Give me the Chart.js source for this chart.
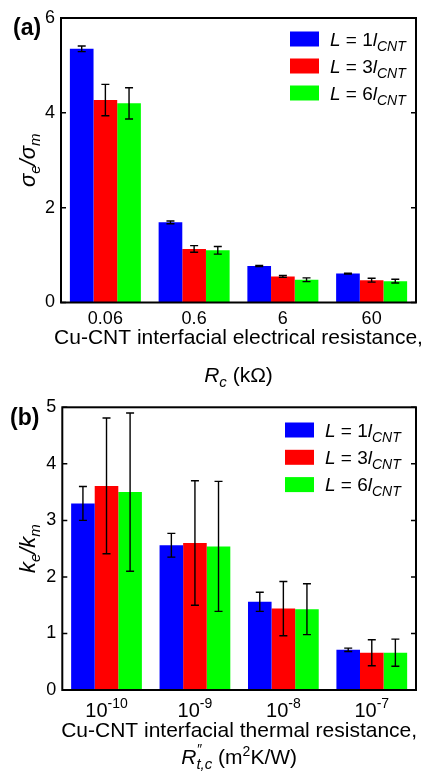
<!DOCTYPE html>
<html>
<head>
<meta charset="utf-8">
<script src="https://cdn.jsdelivr.net/npm/chart.js@4"></script>
<style>
  body { margin: 0; background: #fff; }
  #wrap { position: relative; width: 428px; height: 775px; }
  canvas { position: absolute; left: 0; }
  #elecChart { top: 0; }
  #thermChart { top: 385px; }
</style>
</head>
<body>
<div id="wrap">
  <canvas id="elecChart" width="428" height="400"></canvas>
  <canvas id="thermChart" width="428" height="390"></canvas>
</div>
<script>
// Series: inclusion length L = n * l_CNT
const lengthFactors = ['1', '3', '6'];
const seriesColors = ['#0000ff', '#ff0000', '#00ff00'];

// (a) effective electrical conductivity ratio vs. interfacial resistance (kOhm)
const resistanceLabels = ['0.06', '0.6', '6', '60'];
const sigmaL1 = [5.35, 1.69, 0.77, 0.61];
const sigmaL3 = [4.27, 1.13, 0.55, 0.47];
const sigmaL6 = [4.20, 1.10, 0.48, 0.45];
const sigmaErrL1 = [0.06, 0.03, 0.01, 0.01];
const sigmaErrL3 = [0.33, 0.07, 0.02, 0.04];
const sigmaErrL6 = [0.33, 0.08, 0.04, 0.04];
const sigmaTicks = [0, 2, 4, 6];

// (b) effective thermal conductivity ratio vs. interfacial thermal resistance
const thermalExponents = ['-10', '-9', '-8', '-7'];
const kL1 = [3.30, 2.56, 1.56, 0.71];
const kL3 = [3.61, 2.60, 1.44, 0.66];
const kL6 = [3.50, 2.54, 1.43, 0.66];
const kErrL1 = [0.30, 0.21, 0.17, 0.03];
const kErrL3 = [1.20, 1.10, 0.48, 0.23];
const kErrL6 = [1.40, 1.15, 0.45, 0.24];
const kTicks = [0, 1, 2, 3, 4, 5];

const FAMILY = '"Liberation Sans", Arial, Helvetica, sans-serif';

function fontOf(p) {
  return (p.i ? 'italic ' : '') + (p.b ? 'bold ' : '') + (p.s || 18) + 'px ' + FAMILY;
}

// draws a run of text pieces (italic / sub / sup) on one baseline
function drawRich(ctx, parts, x, y, align) {
  let total = 0;
  const adv = parts.map(p => {
    ctx.font = fontOf(p);
    const w = ctx.measureText(p.t).width;
    const a = p.noAdv ? 0 : w;
    total += a;
    return a;
  });
  let cx = align === 'center' ? x - total / 2 : x;
  ctx.textAlign = 'left';
  ctx.textBaseline = 'alphabetic';
  parts.forEach((p, k) => {
    ctx.font = fontOf(p);
    ctx.fillText(p.t, cx, y + (p.dy || 0));
    cx += adv[k];
  });
}

function legendParts(n) {
  return [
    { t: 'L', i: 1, s: 19 },
    { t: ' = ' + n, s: 19 },
    { t: 'l', i: 1, s: 19 },
    { t: 'CNT', i: 1, s: 14, dy: 5 }
  ];
}

const panelDecor = {
  id: 'panelDecor',
  afterDatasetsDraw(chart, args, opts) {
    const ctx = chart.ctx;
    const { left, right, top, bottom } = chart.chartArea;
    const xs = chart.scales.x, ys = chart.scales.y;
    ctx.save();
    ctx.fillStyle = '#000';
    ctx.strokeStyle = '#000';

    // error bars
    ctx.lineWidth = 1.4;
    opts.errors.forEach((errs, i) => {
      const meta = chart.getDatasetMeta(i);
      meta.data.forEach((bar, j) => {
        const v = chart.data.datasets[i].data[j];
        const yt = ys.getPixelForValue(v + errs[j]);
        const yb = ys.getPixelForValue(v - errs[j]);
        ctx.beginPath();
        ctx.moveTo(bar.x, yt); ctx.lineTo(bar.x, yb);
        ctx.moveTo(bar.x - 4, yt); ctx.lineTo(bar.x + 4, yt);
        ctx.moveTo(bar.x - 4, yb); ctx.lineTo(bar.x + 4, yb);
        ctx.stroke();
      });
    });

    // frame and inward ticks
    ctx.lineWidth = 2;
    ctx.strokeRect(left, top, right - left, bottom - top);
    ctx.lineWidth = 1.5;
    opts.yTicks.forEach(t => {
      const py = ys.getPixelForValue(t);
      ctx.beginPath();
      ctx.moveTo(left, py); ctx.lineTo(left + 5, py);
      ctx.moveTo(right - 5, py); ctx.lineTo(right, py);
      ctx.stroke();
    });

    // category labels
    opts.xLabels.forEach((parts, i) => {
      drawRich(ctx, parts, xs.getPixelForTick(i), bottom + opts.xLabelOffset, 'center');
    });

    // x title, two lines
    const mid = (left + right) / 2;
    drawRich(ctx, opts.xTitle1, mid, opts.xTitleY[0], 'center');
    drawRich(ctx, opts.xTitle2, mid, opts.xTitleY[1], 'center');

    // y title, rotated
    ctx.save();
    ctx.translate(opts.yTitleX, (top + bottom) / 2);
    ctx.rotate(-Math.PI / 2);
    drawRich(ctx, opts.yTitle, 0, 0, 'center');
    ctx.restore();

    // legend
    const lg = opts.legend;
    chart.data.datasets.forEach((ds, i) => {
      const cy = lg.y + i * lg.dy;
      ctx.fillStyle = ds.backgroundColor;
      ctx.fillRect(lg.x, cy - 7.5, 29, 15);
      ctx.fillStyle = '#000';
      drawRich(ctx, legendParts(lengthFactors[i]), lg.textX, cy + 6.5, 'left');
    });

    // panel tag
    drawRich(ctx, [{ t: opts.tag, b: 1, s: 23 }], opts.tagPos[0], opts.tagPos[1], 'left');
    ctx.restore();
  }
};

function makeDatasets(series) {
  return series.map((vals, i) => ({
    label: 'L = ' + lengthFactors[i] + 'l_CNT',
    data: vals,
    backgroundColor: seriesColors[i],
    borderWidth: 0,
    categoryPercentage: 0.8,
    barPercentage: 1.0
  }));
}

function makeChart(id, cfg) {
  return new Chart(document.getElementById(id), {
    type: 'bar',
    data: { labels: cfg.labels, datasets: makeDatasets(cfg.series) },
    options: {
      responsive: false,
      animation: false,
      devicePixelRatio: 1,
      layout: { padding: { top: cfg.padTop, right: cfg.padRight, left: 0, bottom: 0 } },
      scales: {
        x: {
          grid: { display: false, drawTicks: false },
          border: { display: false },
          ticks: { display: false },
          afterFit: s => { s.height = cfg.xHeight; }
        },
        y: {
          min: 0,
          max: cfg.yMax,
          grid: { display: false, drawTicks: false },
          border: { display: false },
          ticks: {
            stepSize: cfg.yStep,
            color: '#000',
            padding: 6,
            font: { family: FAMILY, size: 18 }
          },
          afterFit: s => { s.width = cfg.yWidth; }
        }
      },
      plugins: {
        legend: { display: false },
        tooltip: { enabled: false },
        panelDecor: cfg.decor
      }
    },
    plugins: [panelDecor]
  });
}

makeChart('elecChart', {
  labels: resistanceLabels,
  series: [sigmaL1, sigmaL3, sigmaL6],
  yMax: 6, yStep: 2,
  padTop: 18, padRight: 12, yWidth: 61, xHeight: 97.5,
  decor: {
    errors: [sigmaErrL1, sigmaErrL3, sigmaErrL6],
    yTicks: sigmaTicks,
    xLabels: resistanceLabels.map(t => [{ t: t, s: 18 }]),
    xLabelOffset: 21,
    xTitle1: [{ t: 'Cu-CNT interfacial electrical resistance,', s: 21 }],
    xTitle2: [{ t: 'R', i: 1, s: 21 }, { t: 'c', i: 1, s: 15, dy: 5 }, { t: ' (k\u03A9)', s: 21 }],
    xTitleY: [343.5, 381.5],
    yTitle: [
      { t: '\u03C3', i: 1, s: 22 }, { t: 'e', i: 1, s: 15, dy: 5 },
      { t: '/\u03C3', i: 1, s: 22 }, { t: 'm', i: 1, s: 15, dy: 5 }
    ],
    yTitleX: 35,
    legend: { x: 290, y: 39, dy: 27, textX: 330 },
    tag: '(a)', tagPos: [13, 35]
  }
});

makeChart('thermChart', {
  labels: thermalExponents.map(e => '10^' + e),
  series: [kL1, kL3, kL6],
  yMax: 5, yStep: 1,
  padTop: 22.3, padRight: 12, yWidth: 62.3, xHeight: 85,
  decor: {
    errors: [kErrL1, kErrL3, kErrL6],
    yTicks: kTicks,
    xLabels: thermalExponents.map(e => [{ t: '10', s: 20 }, { t: e, s: 14, dy: -9 }]),
    xLabelOffset: 27,
    xTitle1: [{ t: 'Cu-CNT interfacial thermal resistance,', s: 21 }],
    xTitle2: [
      { t: 'R', i: 1, s: 21 }, { t: '\u2033', i: 1, s: 14, dy: -10, noAdv: 1 },
      { t: 't,c', i: 1, s: 15, dy: 5 },
      { t: ' (m', s: 21 }, { t: '2', s: 14, dy: -8 }, { t: 'K/W)', s: 21 }
    ],
    xTitleY: [351.7, 379],
    yTitle: [
      { t: 'k', i: 1, s: 22 }, { t: 'e', i: 1, s: 15, dy: 5 },
      { t: '/k', i: 1, s: 22 }, { t: 'm', i: 1, s: 15, dy: 5 }
    ],
    yTitleX: 35,
    legend: { x: 285, y: 45, dy: 27.3, textX: 325 },
    tag: '(b)', tagPos: [10, 40]
  }
});
</script>
</body>
</html>
